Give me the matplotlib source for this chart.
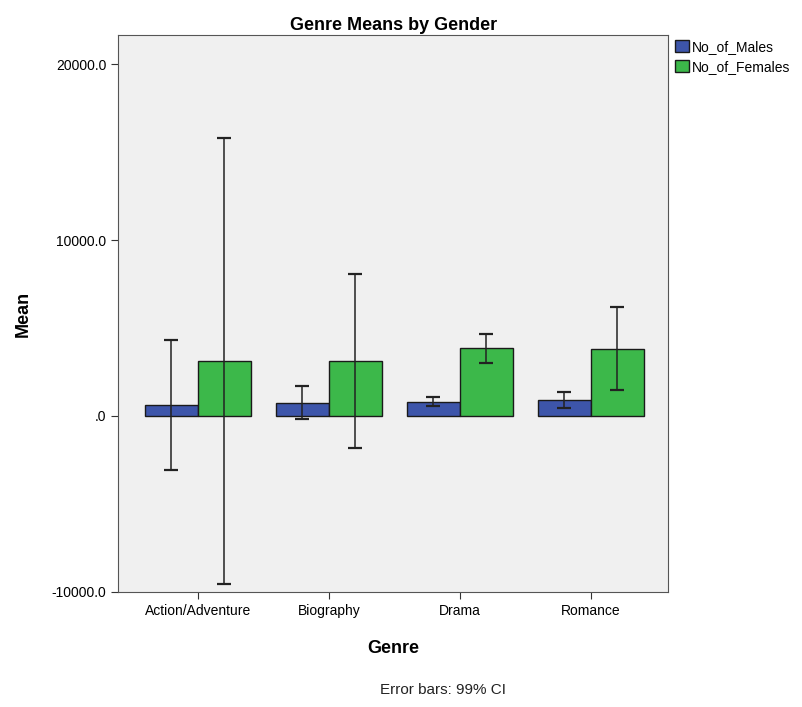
import numpy as np
import matplotlib.pyplot as plt

plt.rcParams['font.family'] = ['Liberation Sans', 'DejaVu Sans']

genres = ['Action/Adventure', 'Biography', 'Drama', 'Romance']
males_mean = [630, 740, 800, 910]
males_lo = [-3050, -170, 570, 450]
males_hi = [4320, 1700, 1080, 1360]
females_mean = [3125, 3125, 3860, 3800]
females_lo = [-9550, -1820, 3010, 1480]
females_hi = [15800, 8070, 4660, 6190]

blue = '#3d55aa'
green = '#3cb84a'

fig = plt.figure(figsize=(8.03, 7.07), dpi=100)
ax = fig.add_axes([0.147, 0.163, 0.685, 0.787])
ax.set_facecolor('#f0f0f0')

x = np.arange(len(genres))
w = 0.405
m = np.array(males_mean)
f = np.array(females_mean)
ax.bar(x - w / 2, m, w, color=blue, edgecolor='#1a1a1a', linewidth=1, label='No_of_Males', zorder=2)
ax.bar(x + w / 2, f, w, color=green, edgecolor='#1a1a1a', linewidth=1, label='No_of_Females', zorder=2)

# 99% CI error bars
ax.errorbar(x - w / 2, m, yerr=[m - np.array(males_lo), np.array(males_hi) - m],
            fmt='none', ecolor='#222222', elinewidth=1.1, capsize=5, capthick=1.6, zorder=3)
ax.errorbar(x + w / 2, f, yerr=[f - np.array(females_lo), np.array(females_hi) - f],
            fmt='none', ecolor='#222222', elinewidth=1.1, capsize=5, capthick=1.6, zorder=3)

ax.set_xlim(-0.61, 3.59)
ax.set_ylim(-10000, 21650)
ax.set_yticks([-10000, 0, 10000, 20000])
ax.set_yticklabels(['-10000.0', '.0', '10000.0', '20000.0'], fontsize=10)
ax.set_xticks(x)
ax.set_xticklabels(genres, fontsize=10)
ax.tick_params(direction='out', length=5, color='#333333')
for s in ax.spines.values():
    s.set_color('#555555')

ax.set_title('Genre Means by Gender', fontsize=13, fontweight='bold', pad=4)
ax.set_ylabel('Mean', fontsize=13, fontweight='bold', labelpad=14)
ax.set_xlabel('Genre', fontsize=13, fontweight='bold', labelpad=16)

leg = ax.legend(loc='upper left', bbox_to_anchor=(1.01, 0.995), frameon=False,
                fontsize=10, handlelength=1.0, handleheight=1.0, handletextpad=0.2,
                borderaxespad=0, borderpad=0.1, labelspacing=0.45)

fig.text(0.552, 0.014, 'Error bars: 99% CI', fontsize=11, ha='center', va='bottom', color='#222222')

plt.savefig('out.png', dpi=100)
